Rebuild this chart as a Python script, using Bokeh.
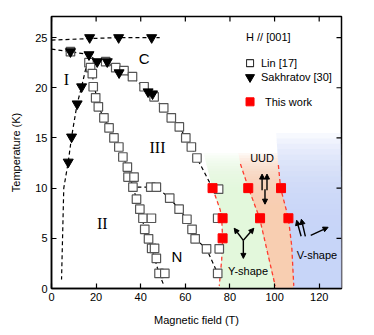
import numpy as np
from bokeh.plotting import figure
from bokeh.models import Range1d, FixedTicker, Arrow, NormalHead
from bokeh.core.properties import value
from bokeh.embed import file_html
from bokeh.resources import INLINE

# ---------------- data ----------------
# Lin [17] (open squares)
lin_x = [8.5, 16.8, 17.5, 18.3, 18.7, 19.8, 21.0, 23.5, 25.8, 28.0, 30.2, 32.0, 34.0,
         34.3, 37.0, 36.5, 38.1, 39.6, 41.0, 44.8, 41.8, 43.5, 44.9, 46.2, 47.0, 48.2, 50.8,
         24.3, 28.8, 32.5, 36.3, 41.5, 46.0, 50.3, 53.7, 57.3, 60.2, 62.7, 65.2, 74.9,
         44.5, 47.0, 53.0, 57.2, 60.7, 63.0, 64.4, 69.5, 74.5, 74.5, 75.2]
lin_y = [23.6, 22.5, 22.0, 21.4, 20.1, 19.0, 18.1, 17.0, 16.0, 15.0, 14.1, 13.1, 12.1,
         11.1, 11.1, 10.1, 8.9, 7.9, 7.0, 7.0, 5.9, 4.95, 4.0, 4.0, 3.0, 1.5, 1.5,
         22.6, 22.0, 21.7, 21.1, 20.1, 19.1, 18.0, 17.0, 16.1, 15.0, 14.1, 13.0, 9.9,
         10.1, 10.1, 9.0, 7.9, 6.9, 5.9, 4.95, 3.95, 1.5, 7.0, 3.95]

# Sakhratov [30] (down triangles)
sak_x = [17.1, 30.1, 44.9, 8.5, 16.8, 20.5, 25.0, 30.3, 43.3, 45.3, 13.5, 11.5, 9.0, 7.5]
sak_y = [25.0, 25.0, 25.0, 23.6, 23.3, 22.6, 22.6, 21.5, 19.6, 19.4, 20.1, 18.4, 15.1, 12.6]

# This work (red squares)
work_x = [72.2, 88.2, 102.9, 76.7, 93.5, 106.2, 76.7]
work_y = [10.0, 10.0, 10.0, 7.0, 7.0, 7.0, 5.0]

# black dashed phase boundaries
top_x = [0, 17.1, 30.1, 44.9, 48.5]
top_y = [24.75, 24.9, 25.0, 25.0, 25.0]
c_x = [0, 8.5, 16.8, 20.5, 25.0, 30.3, 36.3, 43.3, 50.3, 57.3, 62.7, 65.2, 72.2]
c_y = [23.85, 23.6, 23.3, 22.6, 22.6, 21.5, 21.1, 19.6, 18.0, 16.1, 14.1, 13.0, 10.0]
i_x = [16.8, 13.5, 11.5, 9.0, 7.5, 5.5, 4.5]
i_y = [23.3, 20.1, 18.4, 15.1, 12.6, 10.0, 0.9]
ii_x = [16.8, 18.5, 21.0, 25.8, 30.2, 34.0, 36.5, 39.6, 41.8, 44.9, 48.2, 50.4]
ii_y = [23.3, 21.0, 18.1, 16.0, 14.1, 12.1, 10.1, 7.9, 5.9, 4.0, 1.5, 0.3]
n_x = [38.5, 44.5, 47.0, 53.0, 57.2, 60.7, 63.0, 64.4, 69.5, 74.5]
n_y = [10.1, 10.1, 10.1, 9.0, 7.9, 6.9, 5.9, 4.95, 3.95, 1.5]

# red dashed boundaries (this work)
r1_x = [72.2, 75.6, 76.3, 76.7, 76.3, 75.2]
r1_y = [10.0, 7.85, 7.0, 5.0, 2.9, 0.26]
r2_x = [84.7, 88.3, 93.3, 96.2, 100.3]
r2_y = [12.4, 10.0, 7.0, 4.2, 0.26]
r3_x = [101.7, 102.7, 106.2, 107.7, 108.6]
r3_y = [12.3, 10.0, 7.0, 4.2, 0.26]

# region edges (for the shaded phases), y increasing
e1_y = [0, 2.9, 5.0, 7.0, 7.85, 10.0, 14.5]
e1_x = [75.2, 76.3, 76.7, 76.3, 75.6, 72.2, 67.0]
e2_y = [0, 4.2, 7.0, 10.0, 12.4, 15.5]
e2_x = [100.4, 96.2, 93.3, 88.3, 84.7, 82.0]
e3_y = [0, 4.2, 7.0, 10.0, 12.3, 15.5]
e3_x = [108.6, 107.7, 106.2, 102.7, 101.7, 100.7]

xt = [0, 20, 40, 60, 80, 100, 120]
yt = [0, 5, 10, 15, 20, 25]
X_MAX, Y_MAX = 130, 27.1

# ---------------- figure ----------------
p = figure(width=368, height=328, output_backend="svg", toolbar_location=None,
           x_range=Range1d(0, X_MAX), y_range=Range1d(0, Y_MAX),
           min_border_left=51, min_border_right=27, min_border_top=16, min_border_bottom=39)
p.background_fill_color = "white"
p.border_fill_color = "white"
p.grid.visible = False
p.outline_line_color = "black"
p.outline_line_width = 1.5

# shaded phases with fading top
def region(xl_edge, yl_edge, xr_edge, yr_edge, xr_const, color, y_full, y_top, n=24, a=0.14):
    tops = np.linspace(y_full, y_top, n)
    xs, ys = [], []
    for t in tops:
        yy = np.linspace(0, t, 30)
        xl = np.interp(yy, yl_edge, xl_edge)
        if xr_const is not None:
            xr = np.full_like(yy, xr_const)
        else:
            xr = np.interp(yy, yr_edge, xr_edge)
        xs.append(list(xl) + list(xr[::-1]))
        ys.append(list(yy) + list(yy[::-1]))
    p.patches(xs, ys, fill_color=color, fill_alpha=a, line_color=None)

region(e1_x, e1_y, e2_x, e2_y, None, "#e4f7dc", 7.5, 13.5)
region(e2_x, e2_y, e3_x, e3_y, None, "#f9cfb2", 7.5, 13.5)
region(e3_x, e3_y, None, None, X_MAX, "#c4d8f7", 3.0, 15.5)

# dashed lines
dash = "4 3"
for xs_, ys_ in [(top_x, top_y), (c_x, c_y), (i_x, i_y), (ii_x, ii_y), (n_x, n_y)]:
    p.line(xs_, ys_, line_color="black", line_width=1.2, line_dash=dash)
for xs_, ys_ in [(r1_x, r1_y), (r2_x, r2_y), (r3_x, r3_y)]:
    p.line(xs_, ys_, line_color="#ff3b2f", line_width=1.3, line_dash=dash)

# markers
p.scatter(lin_x, lin_y, marker="square", size=8.5, fill_color="white",
          line_color="#555555", line_width=1.2)
p.scatter(sak_x, sak_y, marker="inverted_triangle", size=10, fill_color="black",
          line_color="black")
p.scatter(work_x, work_y, marker="square", size=9, fill_color="#ff0000", line_color="#ff0000")

# legend (manual)
p.text([87.2], [25.05], text=["H // [001]"], text_font=value("Liberation Sans"),
       text_font_size="11px", text_baseline="middle", text_align="left", text_color="black")
p.scatter([89.0], [22.45], marker="square", size=7, fill_color="white", line_color="#333333", line_width=1.1)
p.scatter([89.0], [21.05], marker="inverted_triangle", size=9, fill_color="black", line_color="black")
p.scatter([89.0], [18.6], marker="square", size=8, fill_color="#ff0000", line_color="#ff0000")
p.text([93.9, 93.9, 95.7], [22.45, 21.05, 18.6], text=["Lin [17]", "Sakhratov [30]", "This work"],
       text_font=value("Liberation Sans"), text_font_size="11px", text_baseline="middle",
       text_align="left", text_color="black")

# phase labels
p.text([6.7, 47.5, 22.8], [20.8, 14.0, 6.5], text=["I", "III", "II"],
       text_font=value("Liberation Serif"), text_font_size="16px",
       text_baseline="middle", text_align="center", text_color="black")
p.text([41.5, 56.2], [22.9, 3.2], text=["C", "N"], text_font=value("Liberation Sans"),
       text_font_size="15px", text_baseline="middle", text_align="center", text_color="black")
p.text([94.4, 88.1, 119.0], [13.0, 1.74, 3.3], text=["UUD", "Y-shape", "V-shape"],
       text_font=value("Liberation Sans"), text_font_size="11px",
       text_baseline="middle", text_align="center", text_color="black")

# spin arrows
arrows = [
    (94.4, 9.8, 94.4, 11.4), (96.6, 9.8, 96.6, 11.4), (95.7, 9.9, 95.7, 8.4),
    (86.0, 4.8, 81.9, 6.0), (86.0, 4.8, 90.7, 6.0), (86.0, 4.8, 86.0, 3.0),
    (111.9, 5.2, 109.9, 6.8), (113.8, 5.2, 112.0, 6.9), (116.2, 5.3, 124.0, 6.1),
]
for xs_, ys_, xe, ye in arrows:
    p.add_layout(Arrow(end=NormalHead(size=5, fill_color="black", line_color="black"),
                       x_start=xs_, y_start=ys_, x_end=xe, y_end=ye,
                       line_color="black", line_width=1.4))

# mirrored inward ticks on top and right
tick_x = 0.5 * X_MAX / 290 * 10  # ~5 px in x data units
tick_y = 0.5                      # ~5 px in y data units
p.segment(x0=xt, y0=[Y_MAX] * len(xt), x1=xt, y1=[Y_MAX - tick_y] * len(xt),
          line_color="black", line_width=1.2)
p.segment(x0=[X_MAX] * len(yt), y0=yt, x1=[X_MAX - tick_x] * len(yt), y1=yt,
          line_color="black", line_width=1.2)

# axes
for ax, ticks in [(p.xaxis[0], xt), (p.yaxis[0], yt)]:
    ax.ticker = FixedTicker(ticks=ticks)
    ax.major_tick_in = 5
    ax.major_tick_out = 0
    ax.minor_tick_line_color = None
    ax.axis_line_width = 1.5
    ax.major_tick_line_width = 1.2
    ax.major_label_text_font = "Liberation Sans"
    ax.major_label_text_font_size = "11px"
    ax.major_label_text_color = "black"
    ax.major_label_standoff = 4
    ax.axis_label_text_font = "Liberation Sans"
    ax.axis_label_text_font_size = "11px"
    ax.axis_label_text_font_style = "normal"
    ax.axis_label_text_color = "black"
    ax.axis_label_standoff = 10
p.xaxis[0].axis_label = "Magnetic field (T)"
p.yaxis[0].axis_label = "Temperature (K)"

open("out.html", "w").write(file_html(p, INLINE))
